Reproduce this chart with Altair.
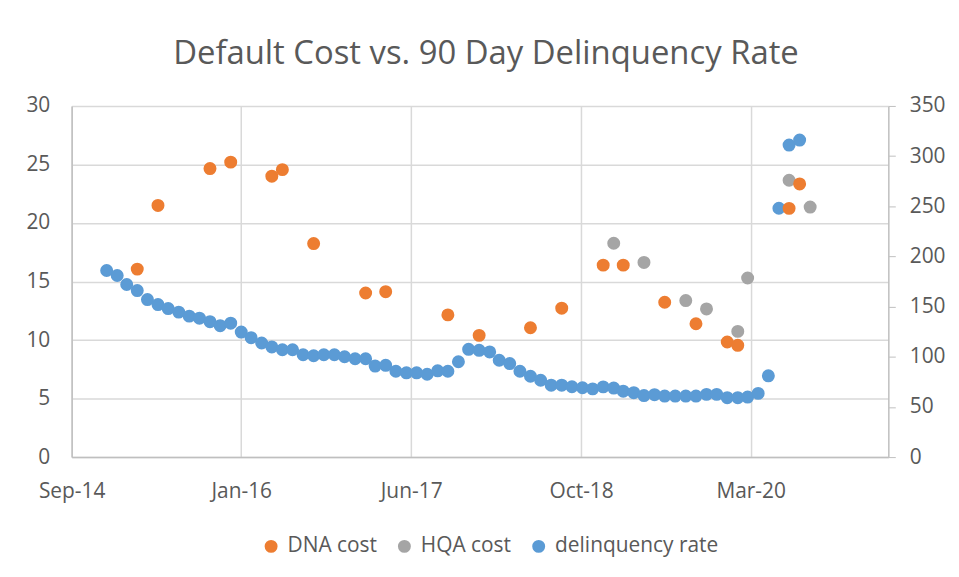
import altair as alt
import pandas as pd

# ---- data ----
delinquency_first_month = "2014-12"
delinquency_rate = [186, 181, 172, 166, 157, 152, 148, 144.5, 140.5, 138.5,
                    135, 131, 133.5, 124.6, 119, 113.7, 109.8, 107, 107, 102,
                    101, 102, 102, 100, 98, 98, 90.7, 91.5, 85.6, 84,
                    84, 82.6, 86, 85.6, 95, 107.4, 106.4, 104.8, 96.5, 93.2,
                    85.6, 80.6, 76.6, 71.7, 71.7, 70.1, 69.1, 68, 70, 68.8,
                    65.7, 64.2, 61.3, 62.2, 60.8, 60.8, 60.8, 60.8, 62.5, 62.5,
                    59.2, 59.2, 59.8, 63.5, 81, 248, 311, 316]

dna_months = ["2015-03", "2015-05", "2015-10", "2015-12", "2016-04", "2016-05",
              "2016-08", "2017-01", "2017-03", "2017-09", "2017-12", "2018-05",
              "2018-08", "2018-12", "2019-02", "2019-06", "2019-09", "2019-12",
              "2020-01", "2020-06", "2020-07"]
dna_cost = [16.06, 21.5, 24.65, 25.2, 24.0, 24.56, 18.24, 14.02, 14.13, 12.15,
            10.4, 11.05, 12.72, 16.4, 16.4, 13.23, 11.39, 9.83, 9.55, 21.25, 23.34]

hqa_months = ["2019-01", "2019-04", "2019-08", "2019-10", "2020-01", "2020-02",
              "2020-06", "2020-08"]
hqa_cost = [18.27, 16.63, 13.37, 12.66, 10.74, 15.3, 23.65, 21.36]

series_names = ["DNA cost", "HQA cost", "delinquency rate"]
series_colors = ["#ED7D31", "#A5A5A5", "#5B9BD5"]

x_ticks = ["2014-09-19", "2016-01-31", "2017-06-14", "2018-10-27", "2020-03-09"]
x_domain = ["2014-09-19", "2021-04-18"]
left_ticks = [0, 5, 10, 15, 20, 25, 30]
right_ticks = [0, 50, 100, 150, 200, 250, 300, 350]

# ---- build tables ----
def month_end(m):
    return pd.Period(m, freq="M").to_timestamp(how="end").normalize()

delinq_dates = pd.period_range(delinquency_first_month, periods=len(delinquency_rate), freq="M")
delinq_df = pd.DataFrame({
    "date": [p.to_timestamp(how="end").normalize() for p in delinq_dates],
    "value": delinquency_rate,
    "series": "delinquency rate",
})
cost_df = pd.concat([
    pd.DataFrame({"date": [month_end(m) for m in hqa_months], "value": hqa_cost, "series": "HQA cost"}),
    pd.DataFrame({"date": [month_end(m) for m in dna_months], "value": dna_cost, "series": "DNA cost"}),
])

def dt(s):
    t = pd.Timestamp(s)
    return alt.DateTime(year=t.year, month=t.month, date=t.day)

x_enc = alt.X(
    "date:T",
    scale=alt.Scale(domain=[dt(d) for d in x_domain], nice=False),
    axis=alt.Axis(values=[dt(d) for d in x_ticks], format="%b-%y", title=None,
                  grid=True, ticks=False, labelPadding=24, domain=True,
                  labelFlush=False, labelOverlap=False),
)

color_enc = alt.Color(
    "series:N",
    scale=alt.Scale(domain=series_names, range=series_colors),
    legend=alt.Legend(orient="none", legendX=190, legendY=432,
                      direction="horizontal", title=None,
                      symbolType="circle", symbolSize=170, labelFontSize=21,
                      labelColor="#595959", labelFont="Open Sans",
                      columnPadding=17, labelOffset=6, labelLimit=400,
                      symbolStrokeWidth=0),
)

blue = alt.Chart(delinq_df).mark_circle(size=170, opacity=1).encode(
    x=x_enc,
    y=alt.Y("value:Q", scale=alt.Scale(domain=[0, 350], nice=False),
            axis=alt.Axis(orient="right", values=right_ticks, title=None, grid=False,
                          ticks=True, tickSize=7, tickColor="#BFBFBF",
                          labelPadding=14, domain=True)),
    color=color_enc,
)

costs = alt.Chart(cost_df).mark_circle(size=170, opacity=1).encode(
    x=x_enc,
    y=alt.Y("value:Q", scale=alt.Scale(domain=[0, 30], nice=False),
            axis=alt.Axis(orient="left", values=left_ticks, title=None, grid=True,
                          ticks=False, labelPadding=22, domain=True)),
    color=color_enc,
)

chart = alt.layer(blue, costs).resolve_scale(y="independent").properties(
    width=821,
    height=353,
    padding={"left": 17, "top": 29, "right": 5, "bottom": 5},
    title=alt.TitleParams("Default Cost vs. 90 Day Delinquency Rate", fontSize=33,
                          font="Open Sans", fontWeight="normal", color="#595959",
                          offset=24, anchor="middle", dx=6),
).configure_view(stroke=None).configure_axis(
    labelFont="Open Sans", labelFontSize=21, labelColor="#595959",
    domainColor="#BFBFBF", domainWidth=1.5, gridColor="#D9D9D9", gridWidth=1.5,
)

chart.save("out.html", embed_options={"renderer": "svg", "actions": False})
